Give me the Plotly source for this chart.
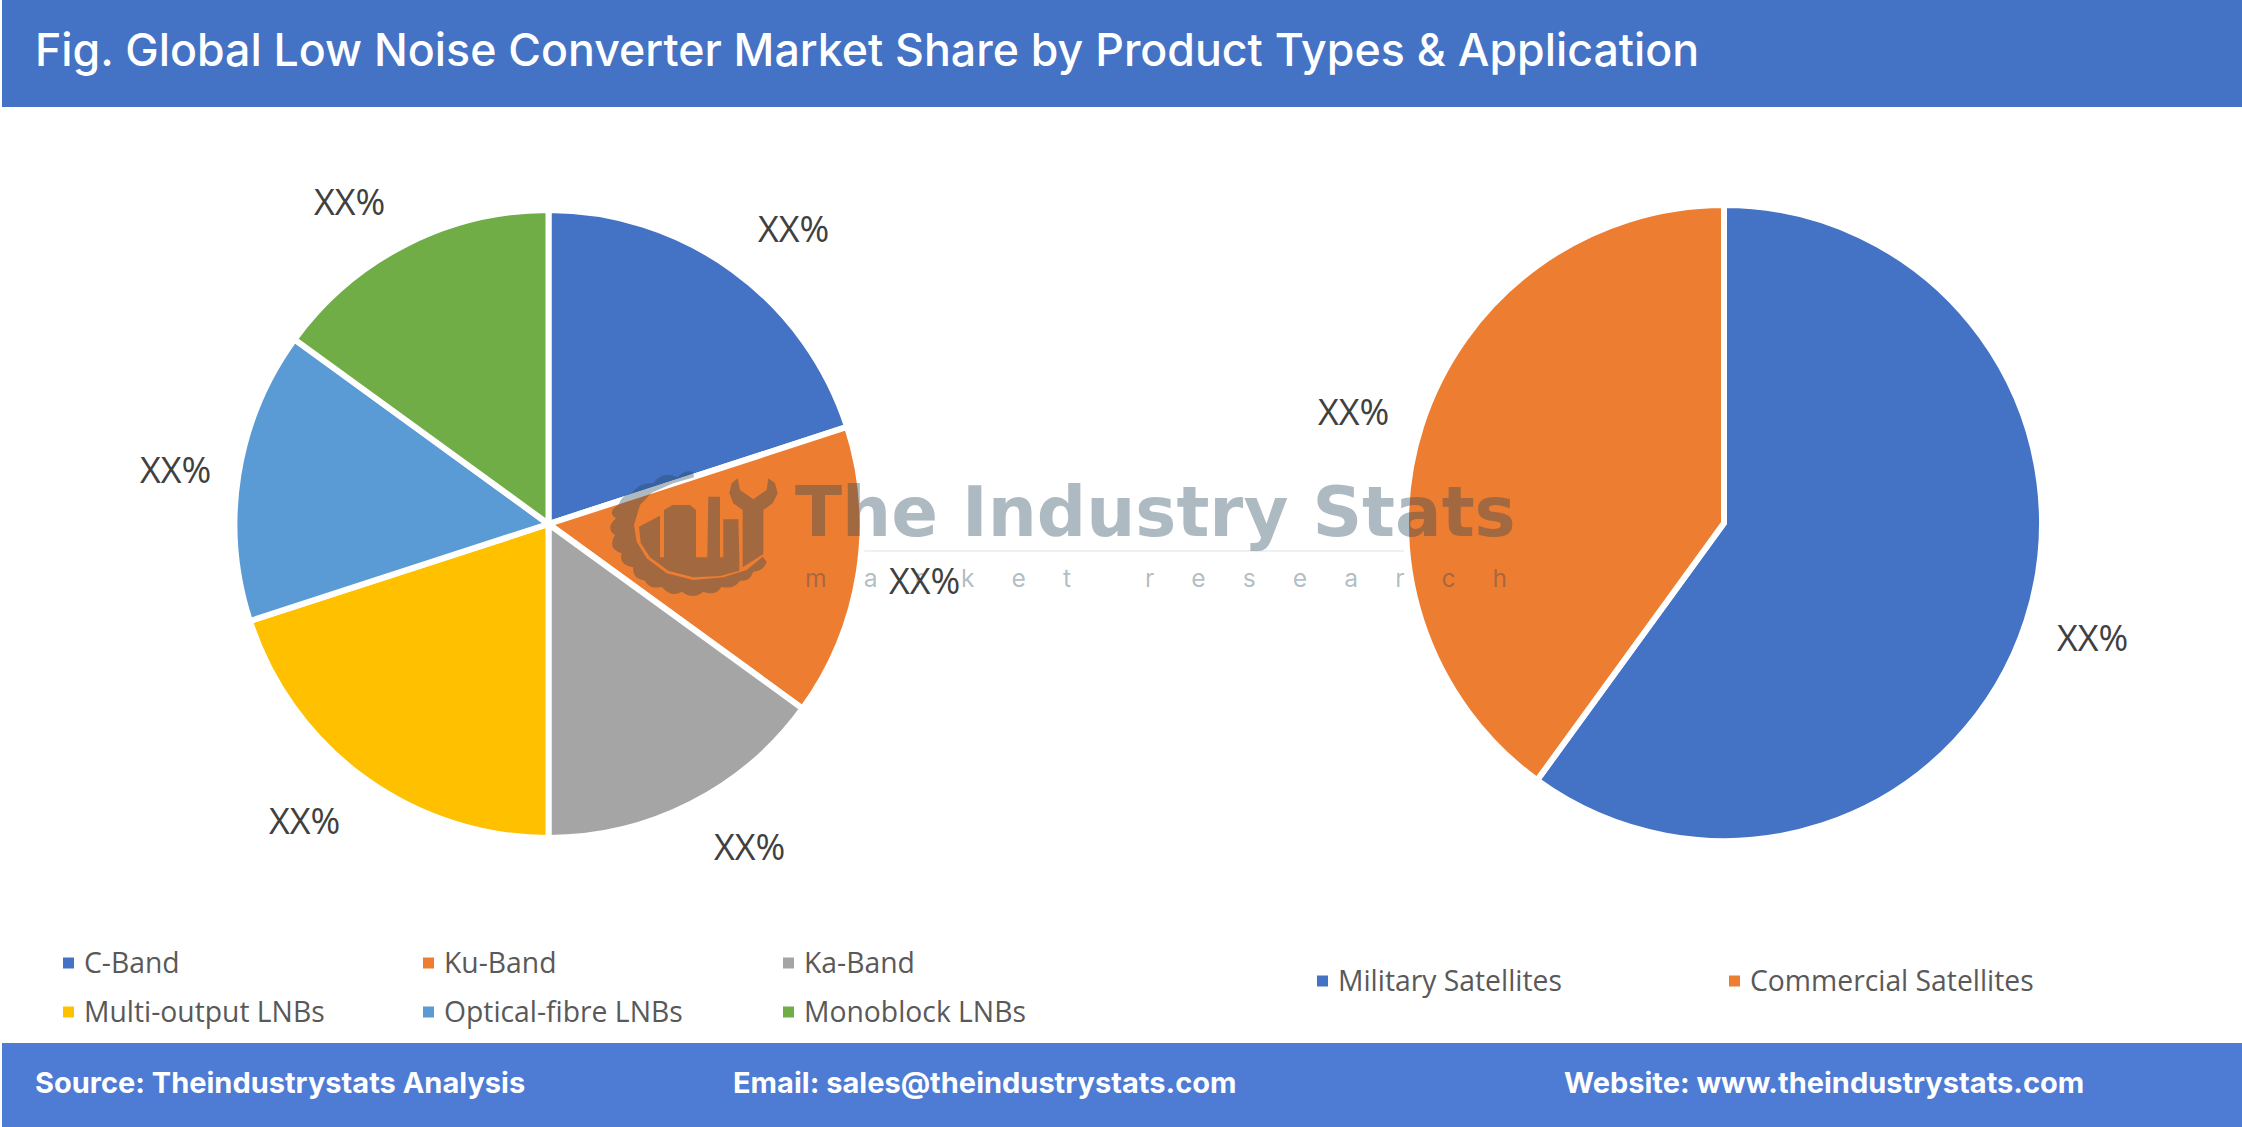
import plotly.graph_objects as go

W, H = 2242, 1127

title_text = "Fig. Global Low Noise Converter Market Share by Product Types & Application"
type_labels = ["C-Band", "Ku-Band", "Ka-Band", "Multi-output LNBs", "Optical-fibre LNBs", "Monoblock LNBs"]
type_values = [20, 15, 15, 20, 15, 15]
type_colors = ["#4472C4", "#ED7D31", "#A5A5A5", "#FFC000", "#5B9BD5", "#70AD47"]
app_labels = ["Military Satellites", "Commercial Satellites"]
app_values = [60, 40]
app_colors = ["#4472C4", "#ED7D31"]
pct_text = "XX%"
footer_texts = ["Source: Theindustrystats Analysis", "Email: sales@theindustrystats.com", "Website: www.theindustrystats.com"]
WM = "rgba(35,68,89,0.37)"


def px(x):
    return x / W


def py(y):
    return 1 - y / H


def pie(labels, values, colors, cx, cy, r):
    return go.Pie(
        labels=labels, values=values, sort=False, direction="clockwise", rotation=0,
        marker=dict(colors=colors, line=dict(color="white", width=6)),
        textinfo="none", hoverinfo="label+percent", showlegend=False,
        domain=dict(x=[px(cx - r), px(cx + r)], y=[py(cy + r), py(cy - r)]),
    )


fig = go.Figure([
    pie(type_labels, type_values, type_colors, 548.5, 524, 314),
    pie(app_labels, app_values, app_colors, 1724, 523, 318),
])

shapes = [
    dict(type="rect", xref="paper", yref="paper", x0=px(2), x1=1, y0=py(107), y1=1,
         fillcolor="#4472C4", line_width=0, layer="below"),
    dict(type="rect", xref="paper", yref="paper", x0=px(2), x1=1, y0=0, y1=py(1043),
         fillcolor="#4E7BD3", line_width=0, layer="below"),
    dict(type="line", xref="paper", yref="paper", x0=px(815), x1=px(1515), y0=py(551), y1=py(551),
         line=dict(color="#EEF1F3", width=2), layer="below"),
]


def z(pt):
    # logo sketch is given in pixels of a 3x crop whose origin is (590, 450)
    return f"{px(590 + pt[0] / 3):.5f},{py(450 + pt[1] / 3):.5f}"


def poly(points):
    return "M" + " L".join(z(p) for p in points) + " Z"


def scallop(notches, bumps, inner):
    d = "M" + z(notches[0])
    for c, n in zip(bumps, notches[1:]):
        d += " Q" + z(c) + " " + z(n)
    d += " L" + " L".join(z(p) for p in inner) + " Z"
    return d


gear = scallop(
    [(310, 68), (262, 82), (190, 100), (125, 130), (85, 165), (78, 205), (75, 255), (95, 310), (130, 352),
     (165, 392), (215, 410), (275, 425), (340, 425), (395, 410), (450, 392), (490, 365), (530, 335)],
    [(290, 55), (220, 60), (150, 95), (95, 135), (50, 185), (45, 235), (50, 295), (85, 345), (125, 385),
     (180, 420), (245, 445), (310, 450), (375, 440), (430, 420), (480, 395), (520, 365)],
    [(518, 320), (470, 360), (400, 382), (310, 390), (230, 370), (170, 325), (140, 275), (132, 225), (150, 165),
     (185, 128), (250, 100), (312, 82)],
)
buildings = poly([(147, 230), (210, 197), (210, 322), (222, 322), (222, 180), (248, 165), (300, 165), (318, 180),
                  (318, 322), (352, 322), (355, 140), (390, 140), (390, 322), (400, 322), (400, 208), (445, 208),
                  (448, 322), (448, 362), (390, 378), (310, 382), (235, 362), (180, 322), (152, 278)])
wrench = poly([(443, 85), (425, 100), (418, 130), (430, 160), (458, 180), (458, 352), (520, 312), (520, 180),
               (548, 160), (563, 130), (555, 100), (535, 85), (530, 120), (490, 148), (450, 120)])
shapes.append(dict(type="path", xref="paper", yref="paper", path=" ".join([gear, buildings, wrench]),
                   fillcolor=WM, line_width=0, layer="above"))

annotations = [
    dict(text=title_text, x=px(33), y=py(50), xanchor="left", yanchor="middle", showarrow=False,
         font=dict(family="Inter", size=44.7, color="white", weight=500)),
]
for txt, x in zip(footer_texts, [33, 731, 1562]):
    annotations.append(dict(text=txt, x=px(x), y=py(1082), xanchor="left", yanchor="middle", showarrow=False,
                            font=dict(family="Inter", size=29, color="white", weight=700)))

annotations.append(dict(text="The Industry Stats", x=px(793), y=py(512), xanchor="left", yanchor="middle",
                        showarrow=False, font=dict(family="DejaVu Sans", size=69, color=WM, weight=700)))
gap = "\u2003\u2002"
annotations.append(dict(text=gap.join("market") + gap + gap + gap.join("research"),
                        x=px(803), y=py(578), xanchor="left", yanchor="middle", showarrow=False,
                        font=dict(family="Inter", size=24.7, color=WM)))

label_xy = [(793, 228), (349, 202), (175, 469), (304, 820), (749, 846), (924, 580), (2092, 637), (1353, 411)]
for x, y in label_xy:
    annotations.append(dict(text=pct_text, x=px(x), y=py(y), xanchor="center", yanchor="middle", showarrow=False,
                            font=dict(family="Open Sans", size=36, color="#404040")))


def legend_entry(label, color, x, y):
    shapes.append(dict(type="rect", xref="paper", yref="paper", x0=px(x), x1=px(x + 11),
                       y0=py(y + 5.5), y1=py(y - 5.5), fillcolor=color, line_width=0, layer="above"))
    annotations.append(dict(text=label, x=px(x + 19), y=py(y - 1), xanchor="left", yanchor="middle", showarrow=False,
                            font=dict(family="Open Sans", size=28.3, color="#595959")))


for i, (label, color) in enumerate(zip(type_labels, type_colors)):
    legend_entry(label, color, [63, 423, 783][i % 3], [963, 1012][i // 3])
for label, color, x in zip(app_labels, app_colors, [1317, 1729]):
    legend_entry(label, color, x, 981)

fig.update_layout(
    width=W, height=H, autosize=False,
    margin=dict(l=0, r=0, t=0, b=0),
    paper_bgcolor="white", plot_bgcolor="white",
    shapes=shapes, annotations=annotations,
    showlegend=False,
)

fig.write_html("out.html", config=dict(displayModeBar=False),
               post_script="document.body.style.margin='0';document.body.style.overflow='hidden';")
